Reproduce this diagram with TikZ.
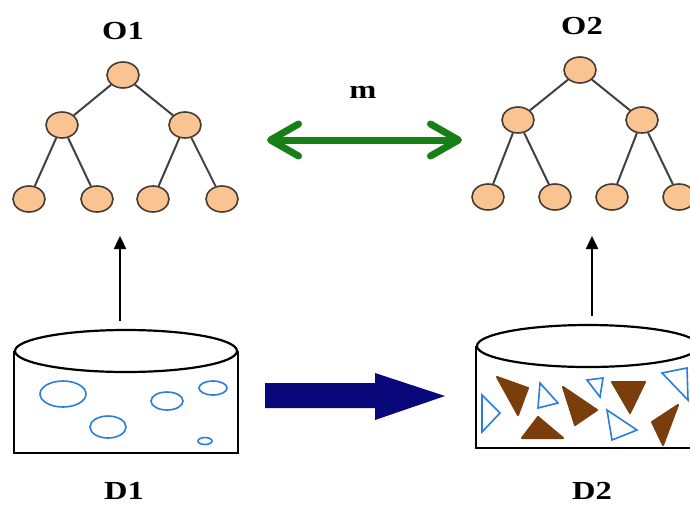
\documentclass[tikz,border=0pt]{standalone}
\usepackage{fontspec}
\setmainfont{Liberation Serif}
\newfontfamily\lblfont{Liberation Serif}[FakeStretch=1.25]
\usetikzlibrary{shapes.geometric,arrows.meta}
\definecolor{peach}{RGB}{250,196,146}
\definecolor{nodeedge}{RGB}{70,60,50}
\definecolor{branch}{RGB}{65,65,65}
\definecolor{mapgreen}{RGB}{22,128,22}
\definecolor{navyarrow}{RGB}{8,8,122}
\definecolor{bubble}{RGB}{40,125,225}
\definecolor{chip}{RGB}{122,62,12}
\tikzset{
  treenode/.style={ellipse, fill=peach, draw=nodeedge, line width=1.6pt,
    minimum width=32pt, minimum height=26pt, inner sep=0pt},
  branchline/.style={draw=branch, line width=2pt},
  title/.style={font=\lblfont\bfseries\fontsize{26}{26}\selectfont, inner sep=0pt},
  drumtop/.style={ellipse, draw=black, line width=2.2pt, minimum width=222pt,
    minimum height=42pt, inner sep=0pt},
  drumside/.style={draw=black, line width=2.2pt},
  liftarrow/.style={draw=black, line width=2.4pt, -{Triangle[length=13pt,width=12pt]}},
  maparrow/.style={draw=mapgreen, line width=7pt,
    {Straight Barb[length=28pt,width=32pt,round]}-{Straight Barb[length=28pt,width=32pt,round]}},
  bubbleshape/.style={draw=bubble, line width=1.6pt},
  chipshape/.style={fill=chip, draw=chip, line width=2pt, line join=round},
  shardshape/.style={draw=bubble, line width=1.6pt, line join=miter},
}
\begin{document}
\begin{tikzpicture}[x=1pt,y=-1pt]
\useasboundingbox[fill=white] (0,0) rectangle (690,504);

% ---- ontology O1 ----
\node[title] (o1lbl) at (123,31) {O1};
\node[treenode] (a0) at (123,75) {};
\node[treenode] (a1) at (62,125) {};
\node[treenode] (a2) at (185,125) {};
\node[treenode] (a3) at (29,199) {};
\node[treenode] (a4) at (97,199) {};
\node[treenode] (a5) at (153,199) {};
\node[treenode] (a6) at (222,199) {};
\draw[branchline] (a0) -- (a1);
\draw[branchline] (a0) -- (a2);
\draw[branchline] (a1) -- (a3);
\draw[branchline] (a1) -- (a4);
\draw[branchline] (a2) -- (a5);
\draw[branchline] (a2) -- (a6);

% ---- ontology O2 ----
\node[title] (o2lbl) at (582,26) {O2};
\node[treenode] (b0) at (580,70) {};
\node[treenode] (b1) at (518,120) {};
\node[treenode] (b2) at (642,120) {};
\node[treenode] (b3) at (488,197) {};
\node[treenode] (b4) at (555,197) {};
\node[treenode] (b5) at (612,197) {};
\node[treenode] (b6) at (679,197) {};
\draw[branchline] (b0) -- (b1);
\draw[branchline] (b0) -- (b2);
\draw[branchline] (b1) -- (b3);
\draw[branchline] (b1) -- (b4);
\draw[branchline] (b2) -- (b5);
\draw[branchline] (b2) -- (b6);

% ---- mapping m ----
\node[title] (mlbl) at (363,92) {m};
\coordinate (mleft) at (267,140);
\coordinate (mright) at (462,140);
\draw[maparrow] (mleft) -- (mright);

% ---- data set D1 ----
\node[drumtop] (d1top) at (126,351) {};
\coordinate (d1base) at (126,453);
\draw[drumside] (d1top.west) |- (d1base) -| (d1top.east);
\draw[bubbleshape] (63,394) ellipse [x radius=23pt, y radius=13pt];
\draw[bubbleshape] (167,401) ellipse [x radius=16pt, y radius=9pt];
\draw[bubbleshape] (213,388) ellipse [x radius=14pt, y radius=7pt];
\draw[bubbleshape] (108,427) ellipse [x radius=18pt, y radius=11pt];
\draw[bubbleshape] (205,441) ellipse [x radius=7pt, y radius=3.5pt];
\node[title] (d1lbl) at (124,491) {D1};

% ---- data set D2 ----
\node[drumtop] (d2top) at (588,346) {};
\coordinate (d2base) at (588,448);
\draw[drumside] (d2top.west) |- (d2base) -| (d2top.east);
% filled chips
\filldraw[chipshape] (497,377) -- (528,388) -- (518,415) -- cycle;
\filldraw[chipshape] (522,438) -- (538,417) -- (563,438) -- cycle;
\filldraw[chipshape] (563,387) -- (597,410) -- (575,425) -- cycle;
\filldraw[chipshape] (612,382) -- (645,382) -- (630,413) -- cycle;
\filldraw[chipshape] (652,422) -- (678,405) -- (663,445) -- cycle;
% outlined shards
\draw[shardshape] (482,395) -- (500,413) -- (482,432) -- cycle;
\draw[shardshape] (540,383) -- (558,403) -- (538,408) -- cycle;
\draw[shardshape] (587,380) -- (603,378) -- (600,397) -- cycle;
\draw[shardshape] (607,410) -- (637,430) -- (612,440) -- cycle;
\draw[shardshape] (662,373) -- (687,368) -- (688,400) -- cycle;
\node[title] (d2lbl) at (592,491) {D2};

% ---- lifting arrows ----
\coordinate (lift1) at (120,236);
\coordinate (lift2) at (592,236);
\draw[liftarrow] (d1top.north -| lift1) ++(0,-8) -- (lift1);
\draw[liftarrow] (d2top.north -| lift2) ++(0,-8) -- (lift2);

% ---- transformation arrow ----
\fill[navyarrow] (265,383) -- (375,383) -- (375,373) -- (445,396)
  -- (375,420) -- (375,408) -- (265,408) -- cycle;
\end{tikzpicture}
\end{document}
